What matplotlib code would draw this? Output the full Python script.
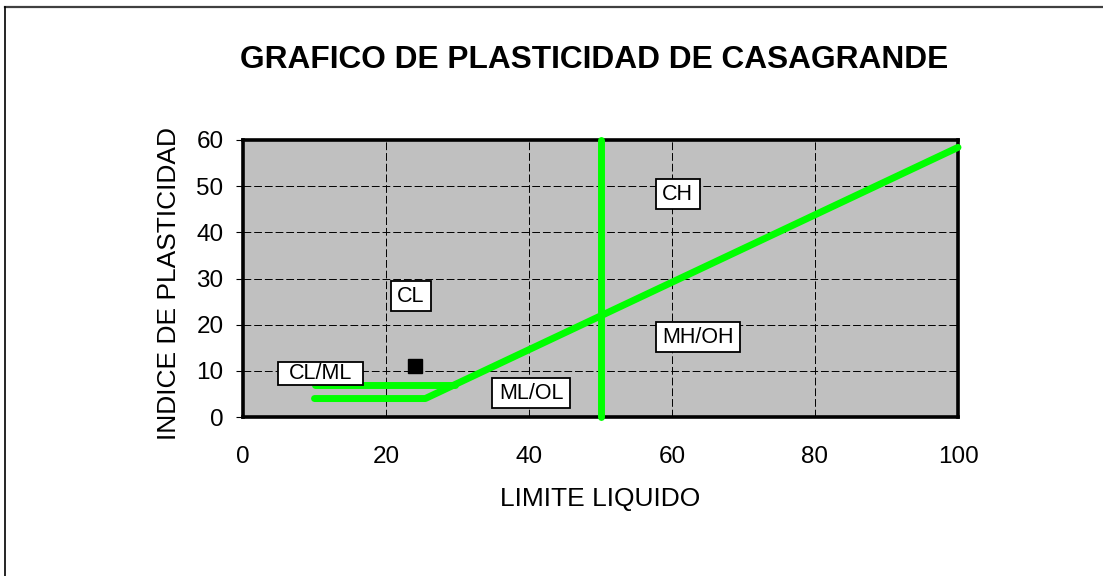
import matplotlib
matplotlib.use("Agg")
import matplotlib.pyplot as plt
from matplotlib.lines import Line2D

plt.rcParams['font.family'] = ['Liberation Sans', 'DejaVu Sans']

# Data
a_line_x = [10, 25.5, 100]
a_line_y = [4, 4, 58.4]
clml_x = [10, 29.6]
clml_y = [7, 7]
b_line_x = [50, 50]
b_line_y = [0, 60]
sample_x = [24]
sample_y = [11]

zone_labels = ["CL", "CL/ML", "ML/OL", "CH", "MH/OH"]
zone_x = [23.5, 10.8, 40.3, 60.8, 63.6]
zone_y = [26.2, 9.4, 5.1, 48.2, 17.3]

x_ticks = [0, 20, 40, 60, 80, 100]
y_ticks = [0, 10, 20, 30, 40, 50, 60]

W, H = 1103, 576
fig = plt.figure(figsize=(W/100, H/100), dpi=100)
ax = fig.add_axes([243/W, 1-417/H, (958-243)/W, (417-140)/H])
ax.set_facecolor('#C0C0C0')

ax.set_xlim(0, 100)
ax.set_ylim(0, 60)
ax.set_xticks(x_ticks)
ax.set_yticks(y_ticks)
ax.grid(True, color='black', linestyle=(0, (8, 3)), linewidth=0.7)
ax.set_axisbelow(True)

for s in ax.spines.values():
    s.set_linewidth(2.6)
    s.set_color('black')

ax.tick_params(axis='x', length=0, pad=21, labelsize=17.5)
ax.tick_params(axis='y', length=5, width=0.8, pad=9, labelsize=17.5, direction='out')

green = '#00FF00'
ax.plot(a_line_x, a_line_y, color=green, lw=5, solid_capstyle='round', solid_joinstyle='round', clip_on=False, zorder=3)
ax.plot(clml_x, clml_y, color=green, lw=5, solid_capstyle='round', clip_on=False, zorder=3)
ax.plot(b_line_x, b_line_y, color=green, lw=5, solid_capstyle='round', clip_on=False, zorder=3)
ax.plot(sample_x, sample_y, marker='s', color='black', ms=10.5, ls='none', zorder=5)

for lab, x, y in zip(zone_labels, zone_x, zone_y):
    if lab == "CL/ML":
        bb = dict(boxstyle='square,pad=0.5', fc='white', ec='black', lw=1.3, mutation_aspect=0.08)
    else:
        bb = dict(boxstyle='square,pad=0.3', fc='white', ec='black', lw=1.3, mutation_aspect=0.7)
    ax.text(x, y, lab, fontsize=15.5, ha='center', va='center', zorder=6, bbox=bb)

ax.set_xlabel('LIMITE LIQUIDO', fontsize=19)
ax.xaxis.set_label_coords(0.5, (417-487)/277)
ax.set_ylabel('INDICE DE PLASTICIDAD', fontsize=19)
ax.yaxis.set_label_coords((180.6-243)/715, (417-283)/277)

fig.text(594/W, 1-68/H, 'GRAFICO DE PLASTICIDAD DE CASAGRANDE', fontsize=22.8,
         fontweight='bold', ha='center', va='baseline')

fig.add_artist(Line2D([5/W, 1], [1-7/H, 1-7/H], color='#404040', lw=1.6, transform=fig.transFigure))
fig.add_artist(Line2D([5/W, 5/W], [0, 1-7/H], color='black', lw=1.2, transform=fig.transFigure))

fig.savefig('out.png', dpi=100)
